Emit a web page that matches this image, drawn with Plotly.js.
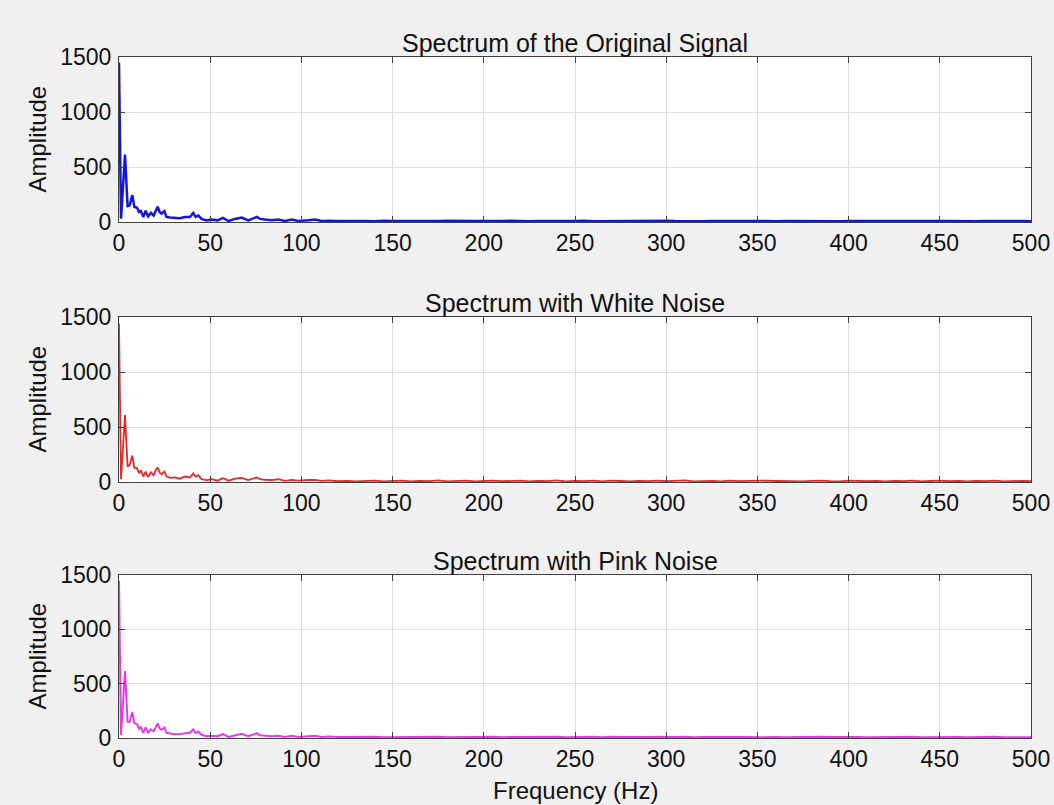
<!DOCTYPE html>
<html>
<head>
<meta charset="utf-8">
<script src="https://cdn.plot.ly/plotly-3.0.1.min.js"></script>
<style>html,body{margin:0;padding:0;background:#f0f0f0;}#chart{width:1054px;height:805px;}</style>
</head>
<body>
<div id="chart"></div>
<script>
// Frequencies (Hz)
const freqLow = [0, 1.1, 3.3, 4.7, 5.8, 7.3, 8.4, 9.9, 11, 12, 13.3, 14.6, 16, 17.5, 19, 20, 21.2, 22.3, 23.4, 24.9, 26, 28, 30.7, 33.4, 36.2, 38.9, 40.7, 42, 43.5, 45.3, 48, 50.8, 54, 57, 60, 63.6, 67.3, 70.9, 75.5, 77.3, 80, 83.7, 87.3, 91, 94.7, 98.3, 103.8, 107.5, 111];
const freqTail = [115, 120, 125, 130, 135, 140, 145, 150, 155, 160,
  165, 170, 175, 180, 185, 190, 195, 200, 205, 210,
  215, 220, 225, 230, 235, 240, 245, 250, 255, 260,
  265, 270, 275, 280, 285, 290, 295, 300, 305, 310,
  315, 320, 325, 330, 335, 340, 345, 350, 355, 360,
  365, 370, 375, 380, 385, 390, 395, 400, 405, 410,
  415, 420, 425, 430, 435, 440, 445, 450, 455, 460,
  465, 470, 475, 480, 485, 490, 495, 500];

// Original signal amplitudes
const originalLow = [1450, 30, 614, 145, 150, 244, 139, 130, 90, 99, 46, 102, 52, 83, 59, 99, 139, 90, 77, 99, 46, 40, 37, 34, 46, 46, 83, 46, 59, 28, 15, 22, 15, 37, 9, 28, 40, 15, 46, 28, 22, 15, 22, 9, 22, 9, 15, 22, 9];
const originalTail = [12, 8, 10, 6, 9, 7, 11, 8, 6, 9,
  10, 7, 8, 12, 9, 6, 8, 10, 7, 9,
  11, 8, 6, 9, 7, 10, 8, 9, 12, 7,
  8, 6, 9, 10, 8, 7, 9, 11, 8, 6,
  10, 7, 9, 8, 12, 9, 7, 8, 10, 6,
  9, 8, 11, 7, 9, 8, 6, 10, 9, 7,
  8, 11, 9, 6, 8, 10, 7, 9, 8, 6,
  9, 7, 8, 10, 7, 9, 8, 6];

// White noise amplitudes
const whiteLow = [1440, 25, 609, 140, 155, 240, 130, 125, 80, 105, 50, 95, 45, 88, 62, 105, 131, 85, 70, 95, 52, 38, 42, 30, 50, 40, 78, 50, 62, 25, 18, 25, 12, 35, 12, 30, 38, 18, 42, 25, 20, 18, 25, 10, 20, 12, 18, 20, 10];
const whiteTail = [14, 7, 11, 5, 10, 13, 6, 9, 12, 5,
  11, 8, 14, 6, 9, 12, 5, 10, 13, 7,
  9, 12, 6, 11, 8, 14, 5, 10, 7, 12,
  6, 13, 9, 5, 11, 8, 12, 7, 10, 14,
  6, 9, 11, 5, 13, 8, 10, 6, 12, 9,
  7, 11, 5, 10, 13, 8, 6, 12, 9, 7,
  11, 5, 10, 8, 13, 6, 9, 12, 7, 10,
  5, 11, 8, 12, 6, 9, 10, 7];

// Pink noise amplitudes
const pinkLow = [1445, 28, 615, 150, 148, 240, 135, 128, 85, 100, 48, 98, 50, 80, 62, 102, 135, 88, 75, 96, 48, 42, 35, 36, 44, 48, 80, 44, 60, 30, 17, 20, 16, 35, 10, 26, 38, 16, 44, 26, 20, 16, 20, 10, 20, 10, 16, 20, 10];
const pinkTail = [13, 9, 11, 7, 10, 12, 8, 9, 11, 7,
  10, 9, 12, 7, 9, 11, 7, 10, 12, 8,
  9, 11, 7, 10, 9, 12, 7, 10, 8, 11,
  7, 12, 9, 7, 10, 9, 11, 8, 10, 12,
  7, 9, 10, 7, 12, 9, 10, 7, 11, 9,
  8, 10, 7, 10, 12, 9, 7, 11, 9, 8,
  10, 7, 10, 9, 12, 7, 9, 11, 8, 10,
  7, 10, 9, 11, 7, 9, 10, 8];

const xTicks = [0, 50, 100, 150, 200, 250, 300, 350, 400, 450, 500];
const yTicks = [0, 500, 1000, 1500];
const titles = ['Spectrum of the Original Signal', 'Spectrum with White Noise', 'Spectrum with Pink Noise'];
const yLabel = 'Amplitude';
const xLabel = 'Frequency (Hz)';

const freq = freqLow.concat(freqTail);
const series = [originalLow.concat(originalTail), whiteLow.concat(whiteTail), pinkLow.concat(pinkTail)];
const colors = ['#1414dc', '#e42a2a', '#e33ce3'];
const widths = [2.5, 1.8, 2];

const W = 1054, H = 805;
const xL = 119, xR = 1031;
const tops = [57, 317, 575], bots = [222, 482, 738];

const fam = 'Liberation Sans, Arial, sans-serif';
const font = {family: fam, size: 23, color: '#111111'};
const traces = [];
const layout = {
  width: W, height: H,
  margin: {l: 0, r: 0, t: 0, b: 0},
  paper_bgcolor: '#f0f0f0', plot_bgcolor: '#ffffff',
  showlegend: false,
  font: font,
  annotations: []
};
for (let i = 0; i < 3; i++) {
  const sfx = i === 0 ? '' : String(i + 1);
  traces.push({x: freq, y: series[i], type: 'scatter', mode: 'lines',
    line: {color: colors[i], width: widths[i]}, xaxis: 'x' + sfx, yaxis: 'y' + sfx, hoverinfo: 'skip'});
  const common = {showline: true, mirror: 'ticks', linecolor: '#404040', linewidth: 1,
    ticks: 'inside', ticklen: 6, tickcolor: '#404040', showgrid: true, gridcolor: '#dedede', gridwidth: 1,
    zeroline: false, tickfont: font, fixedrange: true};
  layout['xaxis' + sfx] = Object.assign({}, common, {
    domain: [xL / W, xR / W], range: [0, 500], tickvals: xTicks, ticktext: xTicks.map(String),
    anchor: 'y' + sfx, ticklabelstandoff: 0});
  layout['yaxis' + sfx] = Object.assign({}, common, {
    domain: [1 - bots[i] / H, 1 - tops[i] / H], range: [0, 1500], tickvals: yTicks, ticktext: yTicks.map(String),
    anchor: 'x' + sfx, ticklabelstandoff: 2});
  layout.annotations.push({text: titles[i], xref: 'paper', yref: 'paper', x: (xL + xR) / 2 / W, y: 1 - tops[i] / H,
    xanchor: 'center', yanchor: 'bottom', yshift: -2, showarrow: false, font: {family: fam, size: 25, color: '#111111'}});
  layout.annotations.push({text: yLabel, xref: 'paper', yref: 'paper', x: 37 / W, y: 1 - (tops[i] + bots[i]) / 2 / H,
    xanchor: 'center', yanchor: 'middle', textangle: -90, showarrow: false, font: {family: fam, size: 24, color: '#111111'}});
}
layout.annotations.push({text: xLabel, xref: 'paper', yref: 'paper', x: (xL + xR) / 2 / W, y: 1 - 790 / H,
  xanchor: 'center', yanchor: 'middle', showarrow: false, font: {family: fam, size: 24, color: '#111111'}});

Plotly.newPlot('chart', traces, layout, {displayModeBar: false, staticPlot: true});
</script>
</body>
</html>
